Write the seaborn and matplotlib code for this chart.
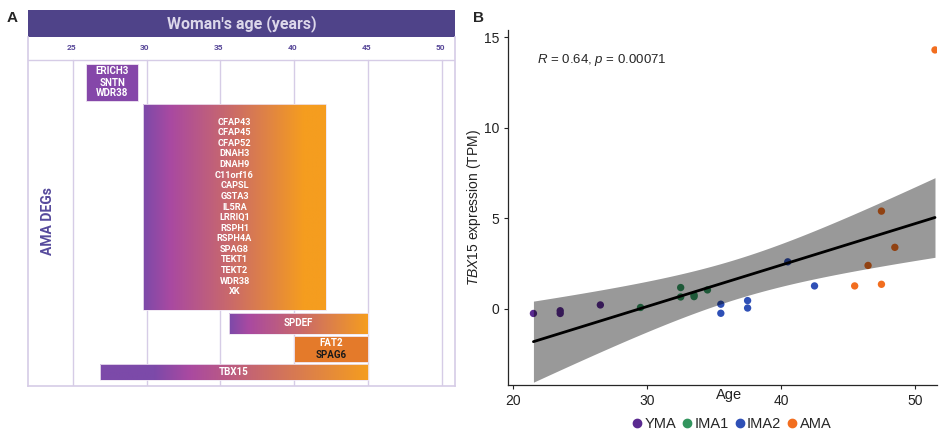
import matplotlib
matplotlib.use('Agg')
import matplotlib.pyplot as plt
from matplotlib.colors import LinearSegmentedColormap
from matplotlib.lines import Line2D
import seaborn as sns
import pandas as pd
import numpy as np

sns.set_theme(style='ticks')
plt.rcParams.update({'font.family': ['Liberation Sans', 'DejaVu Sans'],
                     'mathtext.fontset': 'custom',
                     'mathtext.rm': 'Liberation Sans',
                     'mathtext.it': 'Liberation Sans:italic'})

# ---- data: panel A (age windows of AMA DEGs) ----
gene_groups = [['ERICH3', 'SNTN', 'WDR38'],
               ['CFAP43', 'CFAP45', 'CFAP52', 'DNAH3', 'DNAH9', 'C11orf16', 'CAPSL', 'GSTA3',
                'IL5RA', 'LRRIQ1', 'RSPH1', 'RSPH4A', 'SPAG8', 'TEKT1', 'TEKT2', 'WDR38', 'XK'],
               ['SPDEF'],
               ['FAT2', 'SPAG6'],
               ['TBX15']]
age_start = [25.9, 29.75, 35.6, 40.0, 26.8]
age_end = [29.4, 42.15, 45.0, 45.0, 45.0]
age_ticks = [25, 30, 35, 40, 45, 50]

# ---- data: panel B (TBX15 expression vs age) ----
ages = [21.5, 23.5, 23.5, 26.5,
        29.5, 32.5, 32.5, 33.5, 33.5, 34.5,
        35.5, 35.5, 37.5, 37.5, 40.5, 42.5,
        45.5, 46.5, 47.5, 47.5, 48.5, 51.5]
tpm = [-0.25, -0.1, -0.25, 0.22,
       0.08, 1.18, 0.66, 0.77, 0.68, 1.05,
       0.26, -0.24, 0.46, 0.05, 2.6, 1.27,
       1.27, 2.4, 5.4, 1.36, 3.4, 14.3]
groups = ['YMA'] * 4 + ['IMA1'] * 6 + ['IMA2'] * 6 + ['AMA'] * 6
group_order = ['YMA', 'IMA1', 'IMA2', 'AMA']
group_colors = ['#5a2a90', '#33955e', '#2f50b6', '#f26e1f']

df = pd.DataFrame({'Age': ages, 'TPM': tpm, 'Group': groups})

W, H = 944, 433
fig = plt.figure(figsize=(W / 100, H / 100), dpi=100)

def px_axes(x0, y0, x1, y1):
    return fig.add_axes([x0 / W, 1 - y1 / H, (x1 - x0) / W, (y1 - y0) / H])

# ================= Panel A =================
hdr_col = '#4f4389'
grid_col = '#d6cce6'
purple, magenta, mid, orange = '#7c4aa9', '#a949a1', '#cc6c66', '#f59d1f'

axh = px_axes(28, 10, 455, 37)
axh.set_facecolor(hdr_col)
axh.set_xticks([]); axh.set_yticks([])
for s in axh.spines.values():
    s.set_visible(False)
axh.text(0.5, 0.5, "Woman's age (years)", color='#dcd7ea', fontsize=11.5,
         fontweight='bold', family='Roboto', ha='center', va='center')

ax = px_axes(28, 37, 455, 386)
x_lo, x_hi = 21.95, 50.9
row_top = [64, 104, 313, 336, 364]
row_bot = [101, 310, 334, 362, 380]
stops = [None,
         [(0, purple), (0.15, magenta), (0.5, mid), (0.88, orange), (1, orange)],
         [(0, purple), (0.14, magenta), (0.55, mid), (1, orange)],
         None,
         [(0, purple), (0.2, purple), (0.33, magenta), (0.62, mid), (1, orange)]]
solid = ['#8547a9', None, None, '#e47a2a', None]

for a in age_ticks:
    ax.plot([a, a], [60, 386], color=grid_col, lw=1, zorder=0)
    ax.text(a - 0.12, 48, str(a), color='#5a4a9a', fontsize=6, fontweight='bold',
            family='Roboto', ha='center', va='center')
ax.plot([x_lo, x_hi], [60, 60], color=grid_col, lw=1, zorder=0)

centers = [(t + b) / 2 for t, b in zip(row_top, row_bot)]
heights = [b - t for t, b in zip(row_top, row_bot)]
widths = [e - s for s, e in zip(age_start, age_end)]
bars = ax.barh(centers, widths, left=age_start, height=heights,
               color=[c if c else 'none' for c in solid], edgecolor='#efe6f3',
               linewidth=0.6, zorder=2)
grad = np.linspace(0, 1, 256)[None, :]
for i, bar in enumerate(bars):
    if stops[i] is None:
        continue
    cmap = LinearSegmentedColormap.from_list(f'g{i}', stops[i])
    im = ax.imshow(grad, cmap=cmap, aspect='auto', zorder=1.5,
                   extent=(age_start[i], age_end[i], row_bot[i], row_top[i]))
    im.set_clip_path(bar)

for i, genes in enumerate(gene_groups):
    xc = (age_start[i] + age_end[i]) / 2
    n = len(genes)
    step = 10.6 if n > 3 else 11
    fs = 6.6 if n > 3 else 7
    y0 = centers[i] - step * (n - 1) / 2
    for j, g in enumerate(genes):
        col = '#1a1a1a' if g == 'SPAG6' else 'white'
        ax.text(xc, y0 + j * step, g, color=col, fontsize=fs, fontweight='bold',
                family='Roboto', ha='center', va='center', zorder=3)

ax.set_xlim(x_lo, x_hi)
ax.set_ylim(386, 37)
ax.set_xticks([]); ax.set_yticks([])
ax.spines['top'].set_visible(False)
for s in ['left', 'right', 'bottom']:
    ax.spines[s].set_color(grid_col)
    ax.spines[s].set_linewidth(1.2)

fig.text(48 / W, 1 - 221 / H, 'AMA DEGs', rotation=90, color='#564a9c', fontsize=10,
         fontweight='bold', family='Roboto', ha='center', va='center')
fig.text(12 / W, 1 - 18 / H, 'A', fontsize=11, fontweight='bold', ha='center', va='center')
fig.text(478 / W, 1 - 18 / H, 'B', fontsize=11, fontweight='bold', ha='center', va='center')

# ================= Panel B =================
axb = px_axes(508, 30, 937, 385)
sns.scatterplot(data=df, x='Age', y='TPM', hue='Group', hue_order=group_order,
                palette=group_colors, s=28, linewidth=0, ax=axb, legend=False, zorder=1)
sns.regplot(data=df, x='Age', y='TPM', scatter=False, color='black', ci=None,
            line_kws={'lw': 2, 'zorder': 3}, ax=axb, truncate=True)

# 95% confidence band of the linear fit (t-based, as in geom_smooth)
x = df['Age'].to_numpy()
y = df['TPM'].to_numpy()
n = len(x)
slope, icpt = np.polyfit(x, y, 1)
resid = y - (slope * x + icpt)
s_err = np.sqrt(np.sum(resid ** 2) / (n - 2))
sxx = np.sum((x - x.mean()) ** 2)
xg = np.linspace(x.min(), x.max(), 200)
half = 2.086 * s_err * np.sqrt(1 / n + (xg - x.mean()) ** 2 / sxx)
fit = slope * xg + icpt
axb.fill_between(xg, fit - half, fit + half, color='black', alpha=0.4, lw=0, zorder=2)

axb.set_xlim(19.6, 51.65)
axb.set_ylim(-4.2, 15.4)
axb.set_xticks([20, 30, 40, 50])
axb.set_yticks([0, 5, 10, 15])
axb.tick_params(labelsize=10, colors='#222222', length=3, width=0.8)
for s in ['top', 'right']:
    axb.spines[s].set_visible(False)
for s in ['left', 'bottom']:
    axb.spines[s].set_linewidth(0.9)
axb.set_xlabel('Age', fontsize=10.5, color='#222222')
axb.xaxis.set_label_coords((729 - 508) / 429, -0.008)
axb.set_ylabel(r'$TBX15$ expression (TPM)', fontsize=10, color='#222222')
axb.yaxis.set_label_coords(-0.058, 0.5)
axb.text((537 - 508) / 429, 1 - (60 - 30) / 355, r'$R$ = 0.64, $p$ = 0.00071',
         transform=axb.transAxes, fontsize=9.5, va='center', ha='left')

handles = [Line2D([], [], marker='o', ls='', color=c, markersize=6) for c in group_colors]
fig.legend(handles, group_order, loc='center', ncol=4, frameon=False, fontsize=10.5,
           bbox_to_anchor=(731 / W, 1 - 424 / H), handletextpad=0.05, columnspacing=0.3,
           handlelength=0.9)

plt.savefig('out.png', dpi=100)
plt.close()
